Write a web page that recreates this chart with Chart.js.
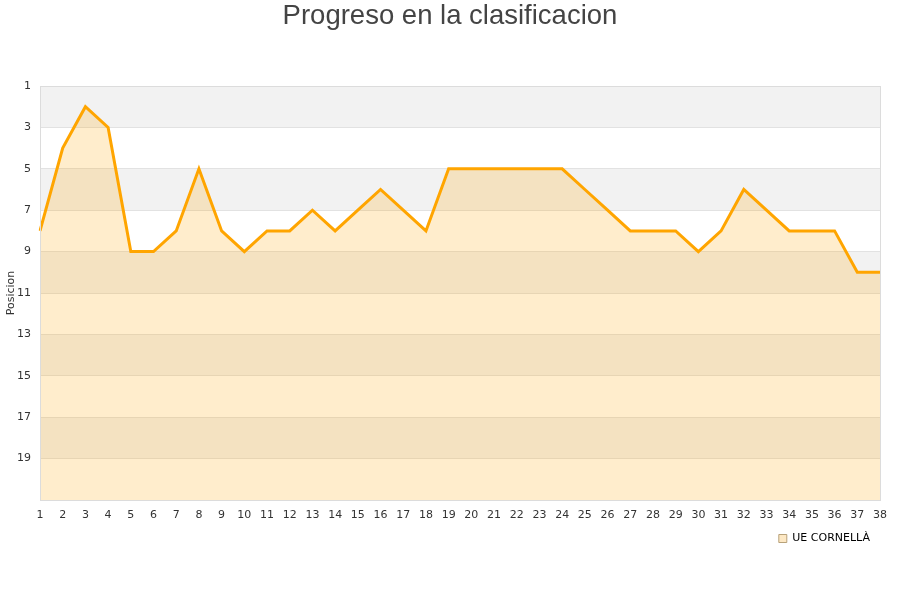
<!DOCTYPE html>
<html>
<head>
<meta charset="utf-8">
<script src="https://cdn.jsdelivr.net/npm/chart.js@4"></script>
<style>
  html, body { margin: 0; padding: 0; background: #fff; }
  #wrap { position: relative; width: 900px; height: 600px; }
  #titulo {
    position: absolute; left: 0; top: 0; width: 900px;
    text-align: center; font-family: "Liberation Sans", Arial, sans-serif;
    font-size: 27.5px; line-height: 30px; color: #444;
  }
</style>
</head>
<body>
<div id="wrap">
  <div id="titulo">Progreso en la clasificacion</div>
  <canvas id="chart1"></canvas>
</div>
<script>
"use strict";
const jornadas = ["1","2","3","4","5","6","7","8","9","10","11","12","13","14","15","16","17","18","19","20","21","22","23","24","25","26","27","28","29","30","31","32","33","34","35","36","37","38"];
const posiciones = [8, 4, 2, 3, 9, 9, 8, 5, 8, 9, 8, 8, 7, 8, 7, 6, 7, 8, 5, 5, 5, 5, 5, 5, 6, 7, 8, 8, 8, 9, 8, 6, 7, 8, 8, 8, 10, 10];
const equipo = "UE CORNELLÀ";

// alternating grey bands behind the plot
const bandsPlugin = {
    id: "bands",
    beforeDraw(chart) {
        const ctx = chart.ctx;
        const area = chart.chartArea;
        const y = chart.scales.y;
        ctx.save();
        for (let v = 1; v < 21; v += 4) {
            const top = y.getPixelForValue(v);
            const bottom = y.getPixelForValue(v + 2);
            ctx.fillStyle = "#f2f2f2";
            ctx.fillRect(area.left, top, area.right - area.left, bottom - top);
        }
        ctx.restore();
    },
    afterDraw(chart) {
        const ctx = chart.ctx;
        const area = chart.chartArea;
        ctx.save();
        ctx.strokeStyle = "#dcdcdc";
        ctx.lineWidth = 1;
        ctx.strokeRect(area.left + 0.5, area.top + 0.5, area.right - area.left, area.bottom - area.top);
        ctx.restore();
    }
};

const chartData = {
    labels: jornadas,
    datasets: [
        {
            label: equipo,
            data: posiciones,
            borderColor: "#ffa500",
            backgroundColor: "rgba(255, 165, 0, 0.2)",
            borderWidth: 3,
            fill: { value: 21 },
            tension: 0,
            pointRadius: 0,
            pointHoverRadius: 0,
        },
    ],
};

const chartConfig = {
    type: "line",
    data: chartData,
    plugins: [bandsPlugin],
    options: {
        responsive: true,
        maintainAspectRatio: false,
        animation: false,
        layout: { padding: { left: 0, right: 20, top: 86, bottom: 46 } },
        plugins: {
            title: { display: false },
            legend: {
                position: "bottom",
                align: "end",
                labels: {
                    color: "#000",
                    boxWidth: 8,
                    boxHeight: 8,
                    font: { family: "DejaVu Sans", size: 11 },
                    generateLabels(chart) {
                        return [{
                            text: equipo,
                            fillStyle: "#fde8c4",
                            strokeStyle: "#b8a27a",
                            lineWidth: 1,
                            fontColor: "#000",
                            datasetIndex: 0,
                        }];
                    },
                },
            },
            tooltip: { enabled: false },
        },
        scales: {
            x: {
                offset: false,
                grid: { display: false },
                border: { display: false },
                ticks: {
                    color: "#333",
                    font: { family: "DejaVu Sans", size: 11 },
                    autoSkip: false,
                    maxRotation: 0,
                    padding: 1,
                },
                afterFit(scale) { scale.height = 23; },
            },
            y: {
                reverse: true,
                min: 1,
                max: 21,
                border: { display: false },
                grid: { color: "#e2e2e2", drawTicks: false },
                ticks: {
                    stepSize: 2,
                    color: "#333",
                    font: { family: "DejaVu Sans", size: 11 },
                    padding: 9,
                    callback: (v) => (v === 21 ? "" : v),
                },
                title: {
                    display: true,
                    text: "Posicion",
                    color: "#333",
                    font: { family: "DejaVu Sans", size: 11 },
                    padding: { top: 5, bottom: 0 },
                },
                afterFit(scale) { scale.width = 40; },
            },
        },
    },
};

new Chart(document.querySelector("#chart1"), chartConfig);
</script>
</body>
</html>
